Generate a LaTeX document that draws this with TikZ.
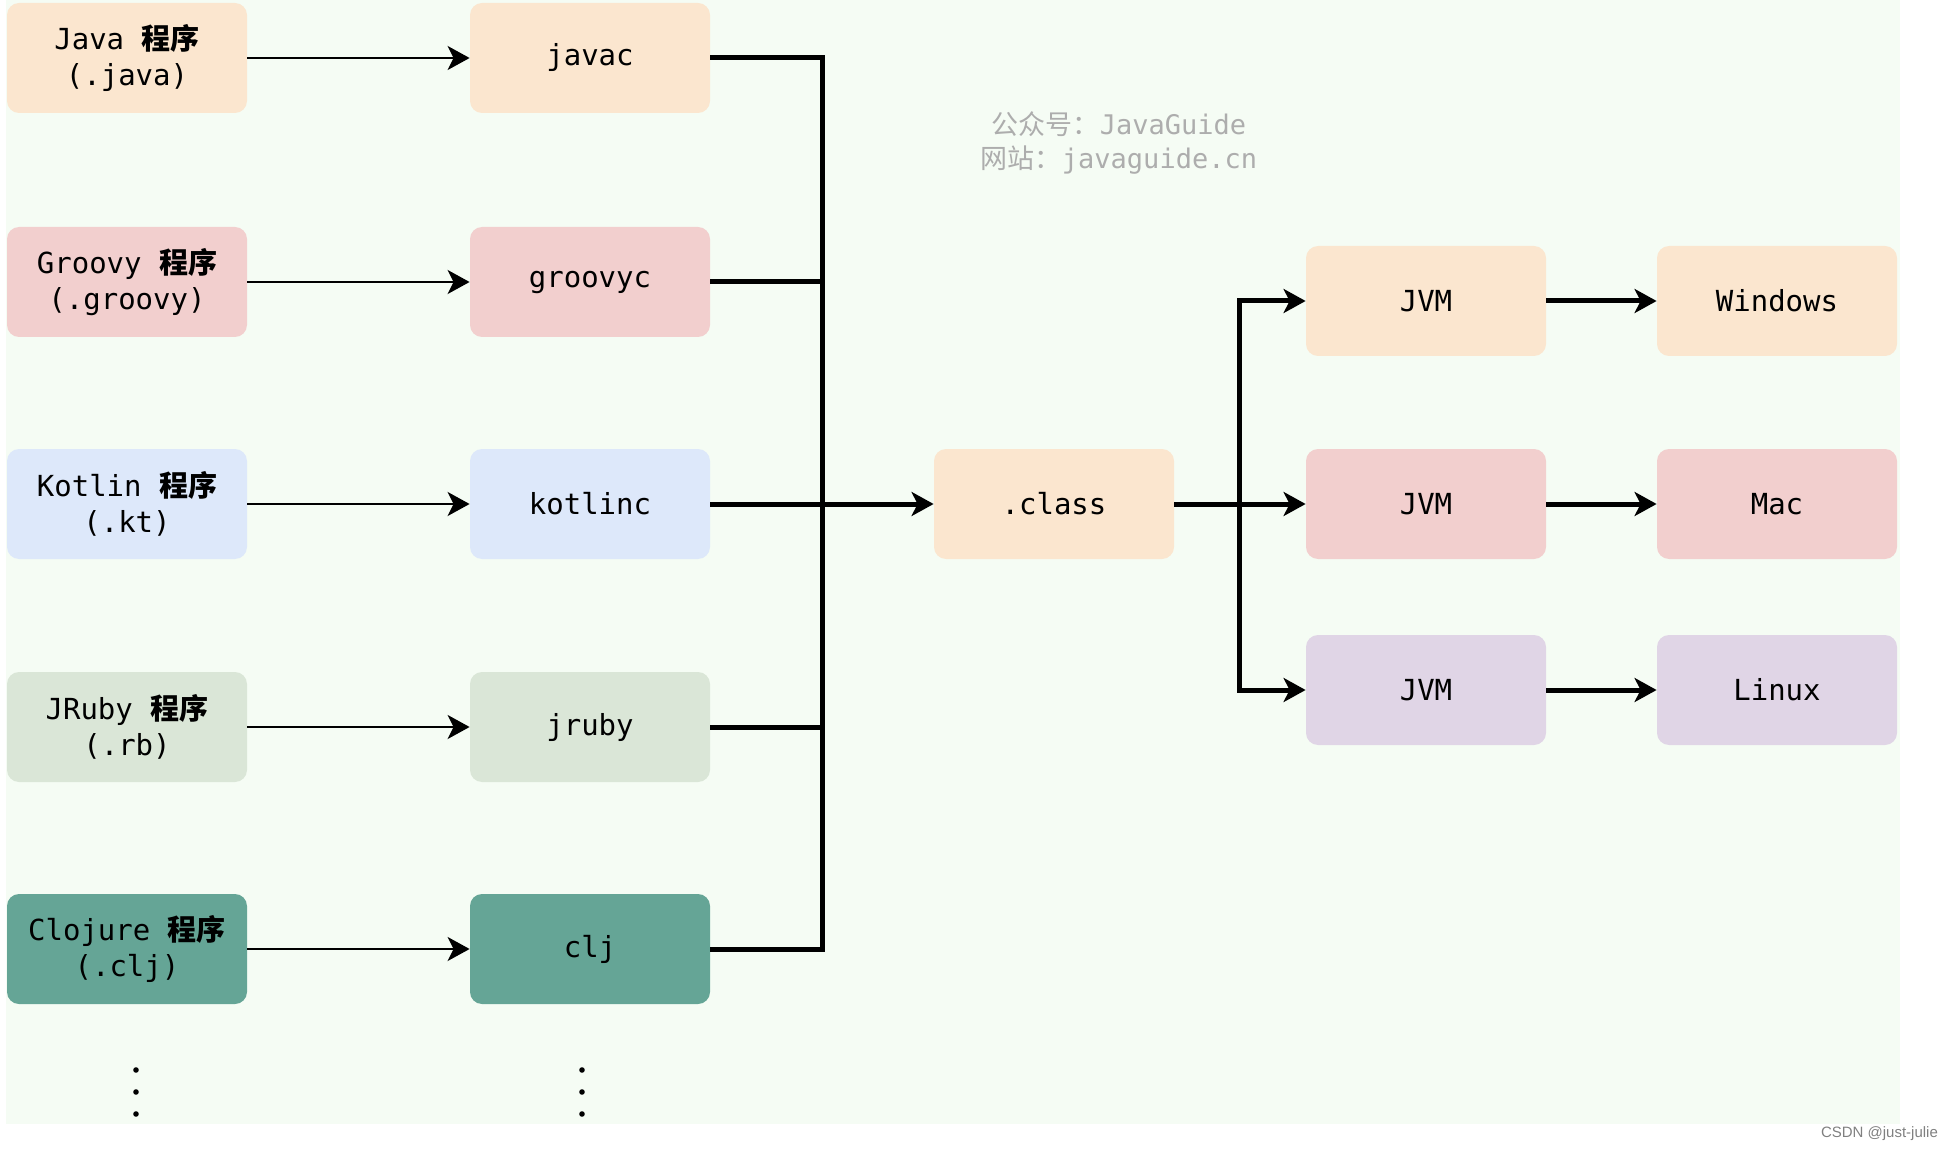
\documentclass[tikz,border=0pt]{standalone}
\usepackage{fontspec}
\setmonofont{DejaVu Sans Mono}
\newfontfamily\cjk{Noto Sans CJK SC}
\newfontfamily\csdnfont{Liberation Sans}
\usetikzlibrary{arrows.meta}
\definecolor{bgGreen}{HTML}{F5FCF4}
\definecolor{cOrange}{HTML}{FBE6CF}
\definecolor{cRed}{HTML}{F2CFCE}
\definecolor{cBlue}{HTML}{DDE8FA}
\definecolor{cGreen}{HTML}{DAE6D7}
\definecolor{cTeal}{HTML}{65A596}
\definecolor{cPurple}{HTML}{E0D5E6}
\begin{document}
\begin{tikzpicture}[x=0.5pt, y=-0.5pt, >={Stealth[length=11pt, width=12pt, inset=3pt]},
	box/.style={rounded corners=6pt, minimum width=120pt, minimum height=55pt, inner sep=0pt, align=center, text=black, font=\ttfamily\fontsize{14.5}{18}\selectfont},
	thinline/.style={line width=1.3pt},
	thickline/.style={line width=2.5pt}]
				% 0. 画布与背景
				\useasboundingbox (0,0) rectangle (1956,1150);
				\fill[bgGreen] (6,0) rectangle (1900,1124);
				
				% 1. 源程序
				\node[box, fill=cOrange] (java) at (127,58) {Java {\cjk\bfseries 程序}\\(.java)};
				\node[box, fill=cRed] (groovy) at (127,282) {Groovy {\cjk\bfseries 程序}\\(.groovy)};
				\node[box, fill=cBlue] (kotlin) at (127,504) {Kotlin {\cjk\bfseries 程序}\\(.kt)};
				\node[box, fill=cGreen] (jruby) at (127,727) {JRuby {\cjk\bfseries 程序}\\(.rb)};
				\node[box, fill=cTeal] (clojure) at (127,949) {Clojure {\cjk\bfseries 程序}\\(.clj)};
				
				% 2. 编译器
				\node[box, fill=cOrange] (javac) at (590,58) {javac};
				\node[box, fill=cRed] (groovyc) at (590,282) {groovyc};
				\node[box, fill=cBlue] (kotlinc) at (590,504) {kotlinc};
				\node[box, fill=cGreen] (jrubyc) at (590,727) {jruby};
				\node[box, fill=cTeal] (cljc) at (590,949) {clj};
				
				% 3. 字节码、JVM 与操作系统
				\node[box, fill=cOrange] (cls) at (1054,504) {.class};
				\node[box, fill=cOrange] (jvmA) at (1426,301) {JVM};
				\node[box, fill=cRed] (jvmB) at (1426,504) {JVM};
				\node[box, fill=cPurple] (jvmC) at (1426,690) {JVM};
				\node[box, fill=cOrange] (win) at (1777,301) {Windows};
				\node[box, fill=cRed] (mac) at (1777,504) {Mac};
				\node[box, fill=cPurple] (linux) at (1777,690) {Linux};
				
				% 4. 源程序 -> 编译器
				\draw[thinline, ->] (java) -- (javac);
				\draw[thinline, ->] (groovy) -- (groovyc);
				\draw[thinline, ->] (kotlin) -- (kotlinc);
				\draw[thinline, ->] (jruby) -- (jrubyc);
				\draw[thinline, ->] (clojure) -- (cljc);
				
				% 5. 汇合到 .class
				\coordinate (jn) at (822,504);
				\draw[thickline] (javac.east) -| (jn);
				\draw[thickline] (groovyc.east) -| (jn);
				\draw[thickline] (jrubyc.east) -| (jn);
				\draw[thickline] (cljc.east) -| (jn);
				\draw[thickline, ->] (kotlinc) -- (cls);
				
				% 6. 分发到各平台 JVM
				\coordinate (br) at (1239,504);
				\draw[thickline] (cls.east) -- (br);
				\draw[thickline, ->] (br) |- (jvmA.west);
				\draw[thickline, ->] (br) |- (jvmC.west);
				\draw[thickline, ->] (cls) -- (jvmB);
				\draw[thickline, ->] (jvmA) -- (win);
				\draw[thickline, ->] (jvmB) -- (mac);
				\draw[thickline, ->] (jvmC) -- (linux);
				
				% 7. 省略号
				\foreach \x in {136,582}
					\foreach \y in {1070,1092,1114}
						\fill (\x,\y) circle (1.4pt);
				
				% 8. 水印
				\node[text=black!32, font=\ttfamily\fontsize{13.5}{17}\selectfont, align=center] (mark) at (1119,143) {{\cjk 公众号：}JavaGuide\\{\cjk 网站：}javaguide.cn};
				\node[text=black!50, font=\csdnfont\fontsize{7.5}{9}\selectfont, anchor=east] (csdn) at (1945,1134) {CSDN @just-julie};
			\end{tikzpicture}
\end{document}
